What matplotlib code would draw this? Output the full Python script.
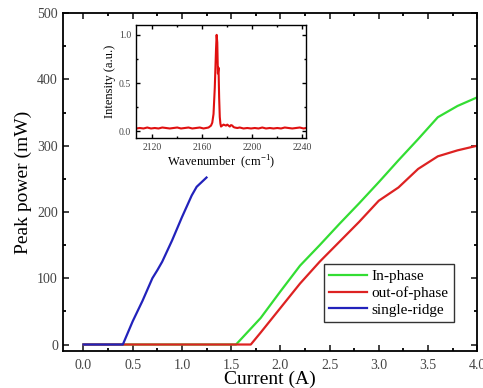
import numpy as np
import matplotlib
matplotlib.use('Agg')
import matplotlib.pyplot as plt
from matplotlib.ticker import MultipleLocator

plt.rcParams['font.family'] = ['Liberation Serif', 'DejaVu Serif']
plt.rcParams['mathtext.fontset'] = 'custom'
plt.rcParams['mathtext.rm'] = 'Liberation Serif'

# main L-I data (current in A, peak power in mW)
in_phase_i = [0.0, 1.55, 1.8, 2.0, 2.2, 2.4, 2.6, 2.8, 3.0, 3.2, 3.4, 3.6, 3.8, 4.0]
in_phase_p = [0, 0, 40, 80, 119, 150, 182, 213, 245, 278, 310, 343, 360, 373]

out_phase_i = [0.0, 1.7, 1.8, 2.0, 2.2, 2.4, 2.6, 2.8, 3.0, 3.2, 3.4, 3.6, 3.8, 4.0]
out_phase_p = [0, 0, 18, 55, 92, 125, 155, 185, 217, 237, 265, 284, 293, 300]

single_i = [0.0, 0.4, 0.5, 0.6, 0.7, 0.75, 0.8, 0.9, 1.0, 1.1, 1.15, 1.2, 1.25]
single_p = [0, 0, 35, 66, 100, 112, 125, 157, 192, 225, 238, 245, 252]

# inset spectrum
wavenumber = [2107, 2110, 2113, 2116, 2119, 2122, 2125, 2128, 2131, 2134, 2137, 2140,
              2143, 2146, 2149, 2152, 2155, 2158, 2161, 2163, 2165, 2167, 2168, 2169,
              2170, 2171, 2171.5, 2172, 2172.5, 2173, 2173.5, 2174, 2174.5, 2175, 2176,
              2177, 2178, 2179, 2180, 2181, 2182, 2183, 2184, 2185, 2186, 2188, 2190,
              2193, 2196, 2199, 2202, 2205, 2208, 2211, 2214, 2217, 2220, 2223, 2226,
              2229, 2232, 2235, 2238, 2241, 2243]
intensity = [0.03, 0.035, 0.03, 0.04, 0.03, 0.035, 0.03, 0.04, 0.035, 0.03, 0.035, 0.04,
             0.03, 0.035, 0.04, 0.03, 0.035, 0.04, 0.03, 0.035, 0.04, 0.06, 0.09, 0.18,
             0.45, 0.85, 1.0, 0.92, 0.6, 0.66, 0.35, 0.15, 0.08, 0.05, 0.06,
             0.07, 0.065, 0.06, 0.07, 0.06, 0.05, 0.065, 0.06, 0.045, 0.04, 0.035, 0.04,
             0.03, 0.035, 0.03, 0.035, 0.03, 0.04, 0.03, 0.035, 0.03, 0.035, 0.03, 0.04,
             0.035, 0.03, 0.035, 0.04, 0.03, 0.035]


def style_axes(ax, lw, major, minor):
    for s in ax.spines.values():
        s.set_linewidth(lw)
    ax.tick_params(which='both', direction='in', top=True, right=True, width=lw)
    ax.tick_params(which='major', length=major)
    ax.tick_params(which='minor', length=minor)


fig = plt.figure(figsize=(4.83, 3.88), dpi=100)
ax = fig.add_axes([0.130, 0.095, 0.858, 0.871])

ax.plot(in_phase_i, in_phase_p, color='#33dd33', lw=1.6, label='In-phase')
ax.plot(out_phase_i, out_phase_p, color='#dd2222', lw=1.6, label='out-of-phase')
ax.plot(single_i, single_p, color='#2222bb', lw=1.6, label='single-ridge')

ax.set_xlim(-0.21, 4.0)
ax.set_ylim(-10, 500)
ax.xaxis.set_major_locator(MultipleLocator(0.5))
ax.xaxis.set_minor_locator(MultipleLocator(0.25))
ax.yaxis.set_major_locator(MultipleLocator(100))
ax.yaxis.set_minor_locator(MultipleLocator(50))
ax.xaxis.set_major_formatter(matplotlib.ticker.FormatStrFormatter('%.1f'))
style_axes(ax, 1.3, 4, 2)
ax.tick_params(labelsize=10, colors='#333333', labelcolor='#444444')
ax.tick_params(axis='x', pad=6)
ax.set_xlabel('Current (A)', fontsize=14, labelpad=-1)
ax.set_ylabel('Peak power (mW)', fontsize=14, labelpad=4)

leg = ax.legend(loc='lower right', bbox_to_anchor=(0.944, 0.086), borderaxespad=0,
                fontsize=11, frameon=True, fancybox=False, edgecolor='black',
                handlelength=2.5, handletextpad=0.3, labelspacing=0.2,
                borderpad=0.35)
leg.get_frame().set_linewidth(1.0)

# inset
axin = fig.add_axes([0.2816, 0.644, 0.352, 0.291])
axin.plot(wavenumber, intensity, color='#e01010', lw=1.5)
axin.set_xlim(2107, 2243)
axin.set_ylim(-0.07, 1.1)
axin.xaxis.set_major_locator(MultipleLocator(40))
axin.xaxis.set_minor_locator(MultipleLocator(20))
axin.yaxis.set_major_locator(MultipleLocator(0.5))
axin.yaxis.set_minor_locator(MultipleLocator(0.25))
style_axes(axin, 1.0, 3, 1.5)
axin.tick_params(labelsize=7, labelcolor='#444444')
axin.set_xlabel('Wavenumber  (cm$^{\\mathregular{-1}}$)', fontsize=9, labelpad=1)
axin.set_ylabel('Intensity (a.u.)', fontsize=9, labelpad=2)

fig.savefig('out.png', dpi=100)
